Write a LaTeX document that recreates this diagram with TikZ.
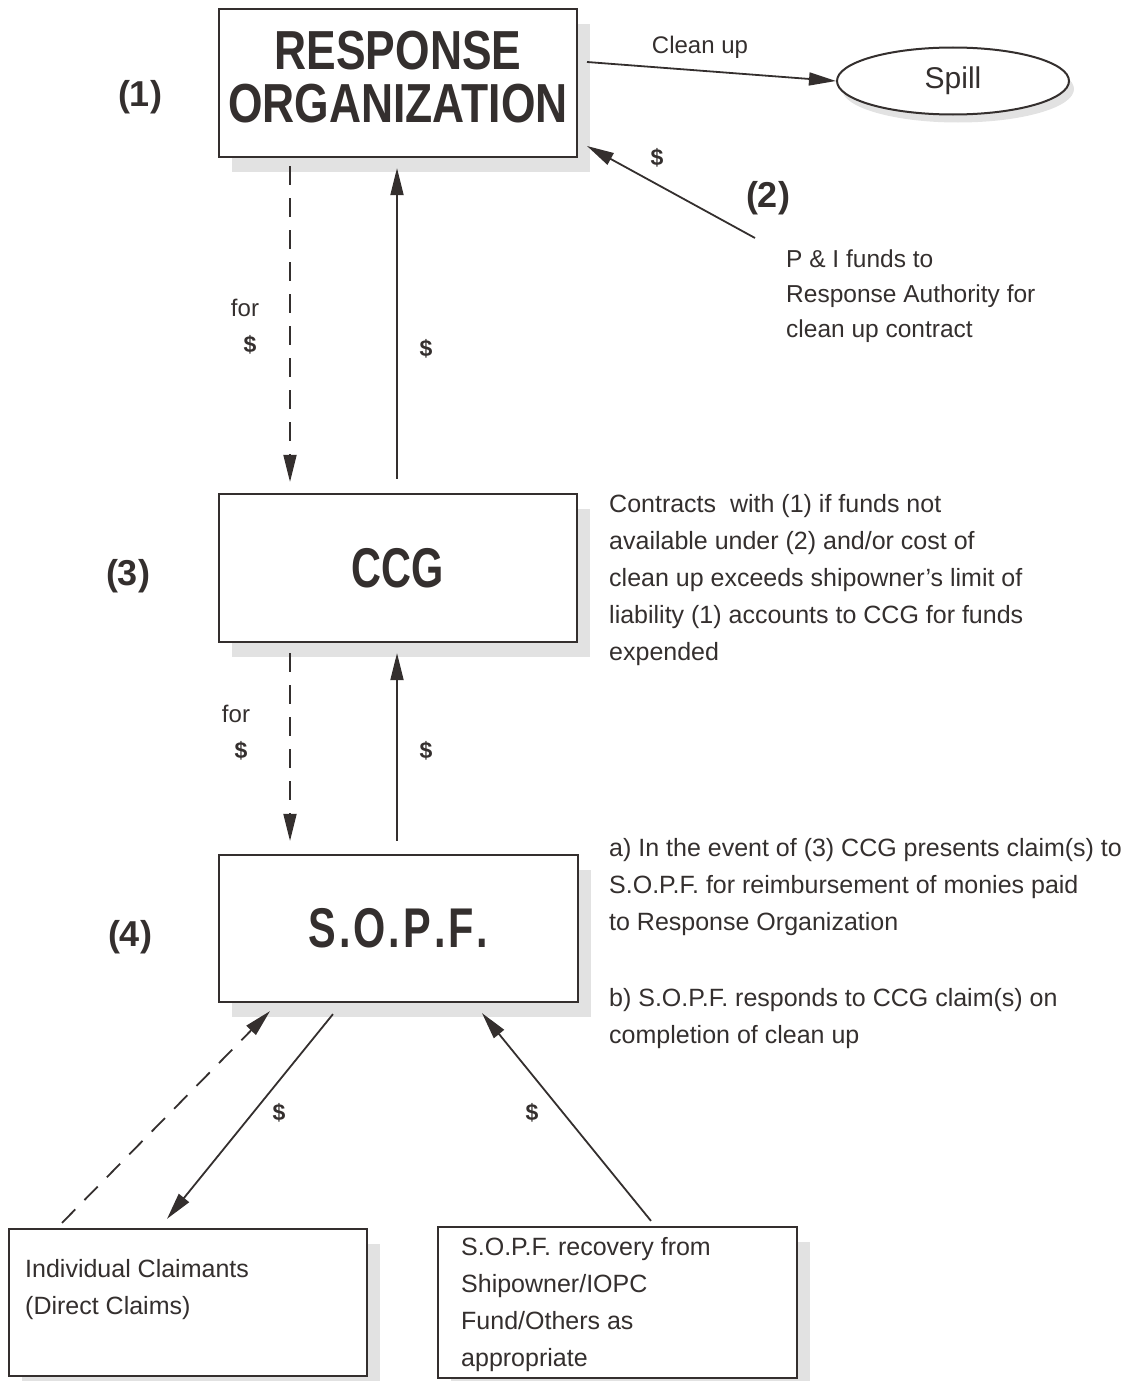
\documentclass[tikz,border=0pt]{standalone}
\usepackage{fontspec}
\setmainfont{Liberation Sans}
\newfontfamily\condfont{Liberation Sans}[FakeStretch=0.74]
\newfontfamily\titlefont{Liberation Sans}[FakeStretch=0.807]
\usetikzlibrary{arrows.meta,shapes.geometric,calc}
\definecolor{ink}{RGB}{52,47,46}
\definecolor{shadowgray}{RGB}{226,226,226}
\begin{document}
\begin{tikzpicture}[x=1pt,y=-1pt,
  every node/.style={text=ink, inner sep=0pt},
  box/.style={draw=ink, line width=2.2pt, fill=white, minimum width=358pt, minimum height=148pt},
  conn/.style={draw=ink, line width=1.8pt, -{Triangle[length=27pt,width=13pt]}},
  dconn/.style={conn, dash pattern=on 19pt off 13pt},
  body/.style={font=\fontsize{25}{37}\selectfont, align=left, anchor=north west},
  lbl/.style={font=\fontsize{24}{28}\selectfont},
  dollar/.style={font=\fontsize{23}{28}\selectfont\bfseries},
  num/.style={font=\fontsize{36}{40}\selectfont\bfseries},
  bigtitle/.style={font=\titlefont\bfseries\fontsize{55}{50}\selectfont}]
\useasboundingbox (0,0) rectangle (1123,1381);
% shadows
\fill[shadowgray] (232,24) rectangle (590,172);
\fill[shadowgray] (232,509) rectangle (590,657);
\fill[shadowgray] (232,870) rectangle (591,1017);
\fill[shadowgray] (22,1244) rectangle (380,1381);
\fill[shadowgray] (451,1242) rectangle (810,1381);
\fill[shadowgray] (958,89) ellipse (116pt and 33.5pt);
% boxes
\node[box, bigtitle] (ro) at (398,83) {\raisebox{-1.5pt}[\height][\depth]{\begin{tabular}{@{}c@{}}RESPONSE\\ORGANIZATION\end{tabular}}};
\node[box, font=\condfont\bfseries\fontsize{56}{56}\selectfont] (ccg) at (398,568) {CCG};
\node[box, minimum width=359pt, minimum height=147pt, font=\condfont\bfseries\fontsize{56}{56}\selectfont] (sopf) at (398.5,928.5) {S\kern3pt.\kern3pt O\kern3pt.\kern3pt P\kern3pt.\kern3pt F\kern3pt.};
\node[box, minimum height=147pt] (ind) at (188,1302.5) {};
\node[box, minimum width=359pt, minimum height=151pt] (rec) at (617.5,1302.5) {};
\node[draw=ink, line width=2pt, fill=white, ellipse, minimum width=232pt, minimum height=67pt, font=\fontsize{30}{30}\selectfont] (spill) at (953,81) {Spill};
% numbers
\node[num] (n1) at (140,97) {(1)};
\node[num] (n2) at (768,198) {(2)};
\node[num] (n3) at (128,576) {(3)};
\node[num] (n4) at (130,937) {(4)};
% connectors
\coordinate (cuS) at (587,62);
\draw[conn] (cuS) -- (spill.west);
\node[lbl] (cul) at (700,47) {Clean up};
\coordinate (piS) at (755,238);
\coordinate (piE) at (587,146);
\draw[conn] (piS) -- (piE);
\node[dollar] (d0) at (657,158) {\$};
\draw[dconn] ([xshift=-108pt,yshift=-8pt]ro.south) -- ([xshift=-108pt,yshift=11pt]ccg.north);
\draw[conn] ([xshift=-1pt,yshift=14pt]ccg.north) -- ([xshift=-1pt,yshift=-10pt]ro.south);
\node[lbl] (f1) at (245,308) {for};
\node[dollar] (d1) at (250,345) {\$};
\node[dollar] (d2) at (426,349) {\$};
\draw[dconn] ([xshift=-108pt,yshift=-10pt]ccg.south) -- ([xshift=-108.5pt,yshift=13pt]sopf.north);
\draw[conn] ([xshift=-1.5pt,yshift=13pt]sopf.north) -- ([xshift=-1pt,yshift=-10pt]ccg.south);
\node[lbl] (f2) at (236,714) {for};
\node[dollar] (d3) at (241,751) {\$};
\node[dollar] (d4) at (426,751) {\$};
\draw[dconn] ([xshift=-126pt,yshift=5pt]ind.north) -- ([xshift=-128.5pt,yshift=-8pt]sopf.south);
\draw[conn] ([xshift=-65.5pt,yshift=-11pt]sopf.south) -- ([xshift=-21pt,yshift=9pt]ind.north);
\draw[conn] ([xshift=33.5pt,yshift=5pt]rec.north) -- ([xshift=83.5pt,yshift=-10pt]sopf.south);
\node[dollar] (d5) at (279,1113) {\$};
\node[dollar] (d6) at (532,1113) {\$};
% texts
\node[body, font=\fontsize{24.5}{35}\selectfont] (pitxt) at (786,250) {P \& I funds to\\Response Authority for\\clean up contract};
\node[body] (ctxt) at (609,494) {Contracts\ \ with (1) if funds not\\available under (2) and/or cost of\\clean up exceeds shipowner's limit of\\liability (1) accounts to CCG for funds\\expended};
\node[body] (atxt) at (609,838) {a) In the event of (3) CCG presents claim(s) to\\S.O.P.F. for reimbursement of monies paid\\to Response Organization};
\node[body] (btxt) at (609,988) {b) S.O.P.F. responds to CCG claim(s) on\\completion of clean up};
\node[body] (itxt) at (25,1259) {Individual Claimants\\(Direct Claims)};
\node[body] (rtxt) at (461,1237) {S.O.P.F. recovery from\\Shipowner/IOPC\\Fund/Others as\\appropriate};
\end{tikzpicture}
\end{document}
